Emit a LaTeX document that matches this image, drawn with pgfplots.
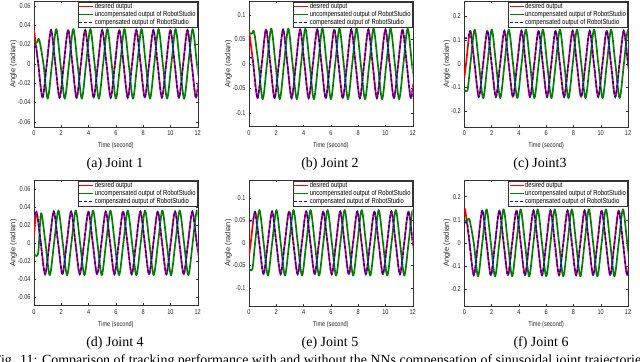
\documentclass[border=0pt]{standalone}
\usepackage{fontspec}
\setmainfont{Liberation Serif}
\newfontfamily\hv{Liberation Sans}
\newfontfamily\hvs{Liberation Sans}[FakeStretch=0.8]
\usepackage{pgfplots}
\usepackage{pgfplotstable}
\pgfplotsset{compat=1.18}

\definecolor{mred}{RGB}{255,0,0}
\definecolor{mgreen}{RGB}{0,128,0}
\definecolor{mblue}{RGB}{0,0,255}

% joint 1
\pgfplotstableread[row sep=\\]{t y\\
0 0.035\\ 0.3125 0\\ 0.625 -0.035\\ 0.9375 0\\ 1.25 0.035\\ 1.5625 0\\ 1.875 -0.035\\ 2.1875 0\\
2.5 0.035\\ 2.8125 0\\ 3.125 -0.035\\ 3.4375 0\\ 3.75 0.035\\ 4.0625 0\\ 4.375 -0.035\\ 4.6875 0\\
5 0.035\\ 5.3125 0\\ 5.625 -0.035\\ 5.9375 0\\ 6.25 0.035\\ 6.5625 0\\ 6.875 -0.035\\ 7.1875 0\\
7.5 0.035\\ 7.8125 0\\ 8.125 -0.035\\ 8.4375 0\\ 8.75 0.035\\ 9.0625 0\\ 9.375 -0.035\\ 9.6875 0\\
10 0.035\\ 10.3125 0\\ 10.625 -0.035\\ 10.9375 0\\ 11.25 0.035\\ 11.5625 0\\ 11.875 -0.035\\ 12.1875 0\\
}\jAr
\pgfplotstableread[row sep=\\]{t y\\
0 0.022\\ 0.2 0.022\\ 0.38 0.025\\ 0.6925 0\\ 1.005 -0.036\\ 1.3175 0\\
1.63 0.036\\ 1.9425 0\\ 2.255 -0.036\\ 2.5675 0\\ 2.88 0.036\\ 3.1925 0\\ 3.505 -0.036\\ 3.8175 0\\
4.13 0.036\\ 4.4425 0\\ 4.755 -0.036\\ 5.0675 0\\ 5.38 0.036\\ 5.6925 0\\ 6.005 -0.036\\ 6.3175 0\\
6.63 0.036\\ 6.9425 0\\ 7.255 -0.036\\ 7.5675 0\\ 7.88 0.036\\ 8.1925 0\\ 8.505 -0.036\\ 8.8175 0\\
9.13 0.036\\ 9.4425 0\\ 9.755 -0.036\\ 10.0675 0\\ 10.38 0.036\\ 10.6925 0\\ 11.005 -0.036\\ 11.3175 0\\
11.63 0.036\\ 11.9425 0\\ 12.255 -0.036\\
}\jAg

% joint 2
\pgfplotstableread[row sep=\\]{t y\\
0 0.07\\ 0.3125 0\\ 0.625 -0.07\\ 0.9375 0\\ 1.25 0.07\\ 1.5625 0\\ 1.875 -0.07\\ 2.1875 0\\
2.5 0.07\\ 2.8125 0\\ 3.125 -0.07\\ 3.4375 0\\ 3.75 0.07\\ 4.0625 0\\ 4.375 -0.07\\ 4.6875 0\\
5 0.07\\ 5.3125 0\\ 5.625 -0.07\\ 5.9375 0\\ 6.25 0.07\\ 6.5625 0\\ 6.875 -0.07\\ 7.1875 0\\
7.5 0.07\\ 7.8125 0\\ 8.125 -0.07\\ 8.4375 0\\ 8.75 0.07\\ 9.0625 0\\ 9.375 -0.07\\ 9.6875 0\\
10 0.07\\ 10.3125 0\\ 10.625 -0.07\\ 10.9375 0\\ 11.25 0.07\\ 11.5625 0\\ 11.875 -0.07\\ 12.1875 0\\
}\jBr
\pgfplotstableread[row sep=\\]{t y\\
0 0.062\\ 0.22 0.062\\ 0.38 0.064\\ 0.6925 0\\ 1.005 -0.072\\ 1.3175 0\\
1.63 0.072\\ 1.9425 0\\ 2.255 -0.072\\ 2.5675 0\\ 2.88 0.072\\ 3.1925 0\\ 3.505 -0.072\\ 3.8175 0\\
4.13 0.072\\ 4.4425 0\\ 4.755 -0.072\\ 5.0675 0\\ 5.38 0.072\\ 5.6925 0\\ 6.005 -0.072\\ 6.3175 0\\
6.63 0.072\\ 6.9425 0\\ 7.255 -0.072\\ 7.5675 0\\ 7.88 0.072\\ 8.1925 0\\ 8.505 -0.072\\ 8.8175 0\\
9.13 0.072\\ 9.4425 0\\ 9.755 -0.072\\ 10.0675 0\\ 10.38 0.072\\ 10.6925 0\\ 11.005 -0.072\\ 11.3175 0\\
11.63 0.072\\ 11.9425 0\\ 12.255 -0.072\\
}\jBg

% joint 3
\pgfplotstableread[row sep=\\]{t y\\
0 -0.06\\ 0.1275 0\\ 0.44 0.14\\ 0.7525 0\\ 1.065 -0.14\\ 1.3775 0\\ 1.69 0.14\\ 2.0025 0\\ 2.315 -0.14\\ 2.6275 0\\
2.94 0.14\\ 3.2525 0\\ 3.565 -0.14\\ 3.8775 0\\ 4.19 0.14\\ 4.5025 0\\ 4.815 -0.14\\ 5.1275 0\\
5.44 0.14\\ 5.7525 0\\ 6.065 -0.14\\ 6.3775 0\\ 6.69 0.14\\ 7.0025 0\\ 7.315 -0.14\\ 7.6275 0\\
7.94 0.14\\ 8.2525 0\\ 8.565 -0.14\\ 8.8775 0\\ 9.19 0.14\\ 9.5025 0\\ 9.815 -0.14\\ 10.1275 0\\
10.44 0.14\\ 10.7525 0\\ 11.065 -0.14\\ 11.3775 0\\ 11.69 0.14\\ 12.0025 0\\ 12.315 -0.14\\
}\jCr
\pgfplotstableread[row sep=\\]{t y\\
0 -0.11\\ 0.24 -0.11\\ 0.4475 0\\ 0.76 0.145\\ 1.0725 0\\ 1.385 -0.145\\ 1.6975 0\\
2.01 0.145\\ 2.3225 0\\ 2.635 -0.145\\ 2.9475 0\\ 3.26 0.145\\ 3.5725 0\\ 3.885 -0.145\\ 4.1975 0\\
4.51 0.145\\ 4.8225 0\\ 5.135 -0.145\\ 5.4475 0\\ 5.76 0.145\\ 6.0725 0\\ 6.385 -0.145\\ 6.6975 0\\
7.01 0.145\\ 7.3225 0\\ 7.635 -0.145\\ 7.9475 0\\ 8.26 0.145\\ 8.5725 0\\ 8.885 -0.145\\ 9.1975 0\\
9.51 0.145\\ 9.8225 0\\ 10.135 -0.145\\ 10.4475 0\\ 10.76 0.145\\ 11.0725 0\\ 11.385 -0.145\\ 11.6975 0\\
12.01 0.145\\ 12.3225 0\\
}\jCg

% joint 4
\pgfplotstableread[row sep=\\]{t y\\
0 0.006\\ 0.18 0.035\\ 0.4975 0\\ 0.815 -0.035\\ 1.1325 0\\ 1.45 0.035\\ 1.7675 0\\ 2.085 -0.035\\ 2.4025 0\\
2.72 0.035\\ 3.0375 0\\ 3.355 -0.035\\ 3.6725 0\\ 3.99 0.035\\ 4.3075 0\\ 4.625 -0.035\\ 4.9425 0\\
5.26 0.035\\ 5.5775 0\\ 5.895 -0.035\\ 6.2125 0\\ 6.53 0.035\\ 6.8475 0\\ 7.165 -0.035\\ 7.4825 0\\
7.8 0.035\\ 8.1175 0\\ 8.435 -0.035\\ 8.7525 0\\ 9.07 0.035\\ 9.3875 0\\ 9.705 -0.035\\ 10.0225 0\\
10.34 0.035\\ 10.6575 0\\ 10.975 -0.035\\ 11.2925 0\\ 11.61 0.035\\ 11.9275 0\\ 12.245 -0.035\\
}\jDr
\pgfplotstableread[row sep=\\]{t y\\
0 -0.012\\ 0.3 -0.012\\ 0.52 0.033\\ 0.8375 0\\ 1.155 -0.036\\ 1.4725 0\\
1.79 0.036\\ 2.1075 0\\ 2.425 -0.036\\ 2.7425 0\\ 3.06 0.036\\ 3.3775 0\\ 3.695 -0.036\\ 4.0125 0\\
4.33 0.036\\ 4.6475 0\\ 4.965 -0.036\\ 5.2825 0\\ 5.6 0.036\\ 5.9175 0\\ 6.235 -0.036\\ 6.5525 0\\
6.87 0.036\\ 7.1875 0\\ 7.505 -0.036\\ 7.8225 0\\ 8.14 0.036\\ 8.4575 0\\ 8.775 -0.036\\ 9.0925 0\\
9.41 0.036\\ 9.7275 0\\ 10.045 -0.036\\ 10.3625 0\\ 10.68 0.036\\ 10.9975 0\\ 11.315 -0.036\\ 11.6325 0\\
11.95 0.036\\ 12.2675 0\\
}\jDg

% joint 5
\pgfplotstableread[row sep=\\]{t y\\
0 -0.03\\ 0.1275 0\\ 0.44 0.07\\ 0.7525 0\\ 1.065 -0.07\\ 1.3775 0\\ 1.69 0.07\\ 2.0025 0\\ 2.315 -0.07\\ 2.6275 0\\
2.94 0.07\\ 3.2525 0\\ 3.565 -0.07\\ 3.8775 0\\ 4.19 0.07\\ 4.5025 0\\ 4.815 -0.07\\ 5.1275 0\\
5.44 0.07\\ 5.7525 0\\ 6.065 -0.07\\ 6.3775 0\\ 6.69 0.07\\ 7.0025 0\\ 7.315 -0.07\\ 7.6275 0\\
7.94 0.07\\ 8.2525 0\\ 8.565 -0.07\\ 8.8775 0\\ 9.19 0.07\\ 9.5025 0\\ 9.815 -0.07\\ 10.1275 0\\
10.44 0.07\\ 10.7525 0\\ 11.065 -0.07\\ 11.3775 0\\ 11.69 0.07\\ 12.0025 0\\ 12.315 -0.07\\
}\jEr
\pgfplotstableread[row sep=\\]{t y\\
0 -0.058\\ 0.25 -0.058\\ 0.4475 0\\ 0.76 0.073\\ 1.0725 0\\ 1.385 -0.073\\ 1.6975 0\\
2.01 0.073\\ 2.3225 0\\ 2.635 -0.073\\ 2.9475 0\\ 3.26 0.073\\ 3.5725 0\\ 3.885 -0.073\\ 4.1975 0\\
4.51 0.073\\ 4.8225 0\\ 5.135 -0.073\\ 5.4475 0\\ 5.76 0.073\\ 6.0725 0\\ 6.385 -0.073\\ 6.6975 0\\
7.01 0.073\\ 7.3225 0\\ 7.635 -0.073\\ 7.9475 0\\ 8.26 0.073\\ 8.5725 0\\ 8.885 -0.073\\ 9.1975 0\\
9.51 0.073\\ 9.8225 0\\ 10.135 -0.073\\ 10.4475 0\\ 10.76 0.073\\ 11.0725 0\\ 11.385 -0.073\\ 11.6975 0\\
12.01 0.073\\ 12.3225 0\\
}\jEg

% joint 6
\pgfplotstableread[row sep=\\]{t y\\
0 0.138\\ 0.07 0.14\\ 0.3825 0\\ 0.695 -0.14\\ 1.0075 0\\ 1.32 0.14\\ 1.6325 0\\ 1.945 -0.14\\ 2.2575 0\\
2.57 0.14\\ 2.8825 0\\ 3.195 -0.14\\ 3.5075 0\\ 3.82 0.14\\ 4.1325 0\\ 4.445 -0.14\\ 4.7575 0\\
5.07 0.14\\ 5.3825 0\\ 5.695 -0.14\\ 6.0075 0\\ 6.32 0.14\\ 6.6325 0\\ 6.945 -0.14\\ 7.2575 0\\
7.57 0.14\\ 7.8825 0\\ 8.195 -0.14\\ 8.5075 0\\ 8.82 0.14\\ 9.1325 0\\ 9.445 -0.14\\ 9.7575 0\\
10.07 0.14\\ 10.3825 0\\ 10.695 -0.14\\ 11.0075 0\\ 11.32 0.14\\ 11.6325 0\\ 11.945 -0.14\\ 12.2575 0\\
}\jFr
\pgfplotstableread[row sep=\\]{t y\\
0 0.095\\ 0.2 0.095\\ 0.38 0.1\\ 0.6925 0\\ 1.005 -0.145\\ 1.3175 0\\
1.63 0.145\\ 1.9425 0\\ 2.255 -0.145\\ 2.5675 0\\ 2.88 0.145\\ 3.1925 0\\ 3.505 -0.145\\ 3.8175 0\\
4.13 0.145\\ 4.4425 0\\ 4.755 -0.145\\ 5.0675 0\\ 5.38 0.145\\ 5.6925 0\\ 6.005 -0.145\\ 6.3175 0\\
6.63 0.145\\ 6.9425 0\\ 7.255 -0.145\\ 7.5675 0\\ 7.88 0.145\\ 8.1925 0\\ 8.505 -0.145\\ 8.8175 0\\
9.13 0.145\\ 9.4425 0\\ 9.755 -0.145\\ 10.0675 0\\ 10.38 0.145\\ 10.6925 0\\ 11.005 -0.145\\ 11.3175 0\\
11.63 0.145\\ 11.9425 0\\ 12.255 -0.145\\
}\jFg

\pgfplotsset{
  jp/.style={
    scale only axis, width=163.7bp, height=125.7bp, anchor=north west,
    xmin=0, xmax=12, xtick={0,2,4,6,8,10,12},
    tick align=inside, major tick length=2.2bp,
    axis line style={draw=black!80, line width=0.4bp},
    tick style={draw=black!80, line width=0.4bp},
    ticklabel style={font=\hvs\fontsize{7}{7}\selectfont, text=black!85},
    /pgf/number format/assume math mode=true,
    scaled y ticks=false,
    yticklabel style={/pgf/number format/fixed, /pgf/number format/precision=2},
    xlabel={Time (second)}, ylabel={Angle (radian)},
    xlabel style={font=\hvs\fontsize{7}{7}\selectfont, text=black!85},
    ylabel style={font=\hv\fontsize{7.5}{7.5}\selectfont, text=black!85},
    ylabel shift=-6bp,
    legend style={at={(0.996,0.994)}, anchor=north east, draw=black!80,
      line width=0.4bp, fill=white, inner sep=0.5bp, row sep=0pt,
      font=\hvs\fontsize{7.4}{7.4}\selectfont,
      nodes={inner sep=0.8bp, text height=5.1bp, text depth=1.4bp}},
    legend cell align=left,
    legend image code/.code={\draw[##1] (0bp,0bp) -- (14bp,0bp);},
  },
  rl/.style={color=mred, line width=1.7bp, smooth, no markers, line join=round},
  gl/.style={color=mgreen, line width=1.7bp, smooth, no markers, line join=round},
  bl/.style={color=mblue, line width=1.4bp, dash pattern=on 3bp off 2bp, smooth, no markers},
}

\begin{document}
\begin{tikzpicture}[x=1bp, y=1bp]
\path[use as bounding box] (0,0) rectangle (640,361);
\clip (0,0) rectangle (640,361);

% (a) Joint 1
\begin{axis}[jp, at={(34bp,360bp)}, ymin=-0.065, ymax=0.065,
  ytick={-0.06,-0.04,-0.02,0,0.02,0.04,0.06}]
\addplot[rl] table {\jAr};
\addplot[gl] table {\jAg};
\addplot[bl, forget plot] coordinates {(0,0.017)(0.15,0.017)(0.3125,0)};
\addplot[bl, restrict x to domain=0.3:13] table {\jAr};
\legend{desired output, uncompensated output of RobotStudio, compensated output of RobotStudio}
\end{axis}

% (b) Joint 2
\begin{axis}[jp, at={(249bp,360bp)}, ymin=-0.128, ymax=0.128,
  ytick={-0.1,-0.05,0,0.05,0.1}]
\addplot[rl] table {\jBr};
\addplot[gl] table {\jBg};
\addplot[bl, forget plot] coordinates {(0,0.012)(0.24,0.012)(0.3125,0)};
\addplot[bl, restrict x to domain=0.3:13] table {\jBr};
\legend{desired output, uncompensated output of RobotStudio, compensated output of RobotStudio}
\end{axis}

% (c) Joint 3
\begin{axis}[jp, at={(464.3bp,360bp)}, ymin=-0.266, ymax=0.266,
  ytick={-0.2,-0.1,0,0.1,0.2}]
\addplot[rl] table {\jCr};
\addplot[gl] table {\jCg};
\addplot[bl, forget plot] coordinates {(0,0.11)(0.25,0.11)(0.44,0.14)};
\addplot[bl, restrict x to domain=0.43:13] table {\jCr};
\legend{desired output, uncompensated output of RobotStudio, compensated output of RobotStudio}
\end{axis}

% (d) Joint 4
\begin{axis}[jp, at={(34bp,181bp)}, ymin=-0.07, ymax=0.07,
  ytick={-0.06,-0.04,-0.02,0,0.02,0.04,0.06}]
\addplot[rl] table {\jDr};
\addplot[gl] table {\jDg};
\addplot[bl, forget plot] coordinates {(0,0.032)(0.22,0.032)(0.4975,0)};
\addplot[bl, restrict x to domain=0.49:13] table {\jDr};
\legend{desired output, uncompensated output of RobotStudio, compensated output of RobotStudio}
\end{axis}

% (e) Joint 5
\begin{axis}[jp, at={(249bp,181bp)}, ymin=-0.14, ymax=0.14,
  ytick={-0.1,-0.05,0,0.05,0.1}]
\addplot[rl] table {\jEr};
\addplot[gl] table {\jEg};
\addplot[bl, forget plot] coordinates {(0,0.05)(0.27,0.05)(0.44,0.07)};
\addplot[bl, restrict x to domain=0.43:13] table {\jEr};
\legend{desired output, uncompensated output of RobotStudio, compensated output of RobotStudio}
\end{axis}

% (f) Joint 6
\begin{axis}[jp, at={(464.3bp,181bp)}, ymin=-0.272, ymax=0.272,
  ytick={-0.2,-0.1,0,0.1,0.2}]
\addplot[rl] table {\jFr};
\addplot[gl] table {\jFg};
\addplot[bl, forget plot] coordinates {(0,0.085)(0.22,0.085)(0.3825,0)};
\addplot[bl, restrict x to domain=0.38:13] table {\jFr};
\legend{desired output, uncompensated output of RobotStudio, compensated output of RobotStudio}
\end{axis}

\begin{scope}[font=\fontsize{14}{16}\selectfont]
\node[anchor=base] at (115,193.7) {(a) Joint 1};
\node[anchor=base] at (330,193.7) {(b) Joint 2};
\node[anchor=base] at (540,193.7) {(c) Joint3};
\node[anchor=base] at (115,15) {(d) Joint 4};
\node[anchor=base] at (330,15) {(e) Joint 5};
\node[anchor=base] at (541,15) {(f) Joint 6};
\node[anchor=base] at (320,-3.5) {Fig. 11: Comparison of tracking performance with and without the NNs compensation of sinusoidal joint trajectories};
\end{scope}
\end{tikzpicture}
\end{document}
